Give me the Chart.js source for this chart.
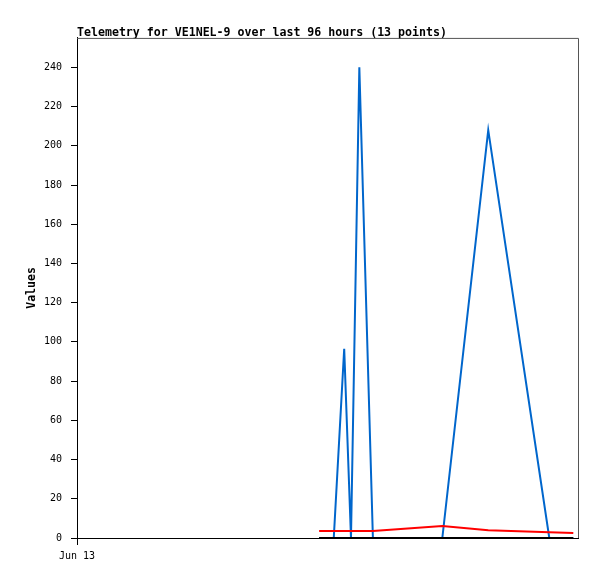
<!DOCTYPE html>
<html>
<head>
<meta charset="utf-8">
<script src="https://cdn.jsdelivr.net/npm/chart.js@4/dist/chart.umd.min.js"></script>
<style>
  html, body { margin: 0; padding: 0; background: #fff; }
  #wrap { width: 597px; height: 579px; }
</style>
</head>
<body>
<div id="wrap"><canvas id="chart"></canvas></div>
<script>
// hours since start of the 96 hour window
const hours = [46.4, 49.2, 51.2, 52.5, 54.1, 56.7, 70.0, 78.8, 90.5, 95.1];
const blueValues = [0, 0, 96.5, 0, 240, 0, 0, 208, 0, 0];
const redValues = [3.6, 3.6, 3.6, 3.6, 3.6, 3.6, 6.1, 4.0, 2.9, 2.6];
const blackValues = [0, 0, 0, 0, 0, 0, 0, 0, 0, 0];
const xTickValues = [0];
const xTickLabels = ["Jun 13"];
const yTickStep = 20;

const MONO = "'DejaVu Sans Mono', 'Liberation Mono', monospace";

const toPoints = (vals) => vals.map((v, i) => ({ x: hours[i], y: v }));

// gray top and right edges of the plot box
const boxEdges = {
  id: "boxEdges",
  afterDraw(chart) {
    const { ctx, chartArea } = chart;
    ctx.save();
    ctx.strokeStyle = "#555";
    ctx.lineWidth = 1;
    ctx.beginPath();
    ctx.moveTo(chartArea.left, chartArea.top + 0.5);
    ctx.lineTo(chartArea.right + 0.5, chartArea.top + 0.5);
    ctx.lineTo(chartArea.right + 0.5, chartArea.bottom);
    ctx.stroke();
    ctx.restore();
  },
};

const ctx = document.getElementById("chart");

new Chart(ctx, {
  type: "line",
  data: {
    datasets: [
      {
        label: "black",
        data: toPoints(blackValues),
        borderColor: "#000000",
        borderWidth: 2,
        pointRadius: 0,
        tension: 0,
        order: 0,
      },
      {
        label: "red",
        data: toPoints(redValues),
        borderColor: "#ff0000",
        borderWidth: 2,
        pointRadius: 0,
        tension: 0,
        order: 1,
      },
      {
        label: "blue",
        data: toPoints(blueValues),
        borderColor: "#0066cc",
        borderWidth: 2,
        pointRadius: 0,
        tension: 0,
        order: 2,
      },
    ],
  },
  options: {
    responsive: true,
    maintainAspectRatio: false,
    animation: false,
    layout: {
      padding: { top: 0, right: 19, bottom: 0, left: 0 },
    },
    plugins: {
      legend: { display: false },
      tooltip: { enabled: false },
      title: {
        display: true,
        text: "Telemetry for VE1NEL-9 over last 96 hours (13 points)",
        align: "start",
        fullSize: false,
        color: "#000",
        font: { family: MONO, size: 11.6, weight: "bold", lineHeight: 1.2 },
        padding: { top: 26, bottom: -2 },
      },
    },
    scales: {
      x: {
        type: "linear",
        min: 0,
        max: 96,
        afterBuildTicks: (scale) => {
          scale.ticks = xTickValues.map((v) => ({ value: v }));
        },
        afterFit: (scale) => {
          scale.height = 41;
        },
        ticks: {
          color: "#000",
          font: { family: MONO, size: 10 },
          padding: 5,
          maxRotation: 0,
          callback: (value) => {
            const i = xTickValues.indexOf(value);
            return i >= 0 ? xTickLabels[i] : "";
          },
        },
        grid: {
          drawOnChartArea: false,
          tickLength: 7,
          color: "#000",
        },
        border: { display: true, color: "#000", width: 1 },
      },
      y: {
        type: "linear",
        min: 0,
        max: 255,
        afterBuildTicks: (scale) => {
          scale.ticks = scale.ticks.filter((t) => t.value % yTickStep === 0);
        },
        afterFit: (scale) => {
          scale.width = 77;
        },
        ticks: {
          stepSize: yTickStep,
          color: "#000",
          font: { family: MONO, size: 10 },
          padding: 9,
        },
        grid: {
          drawOnChartArea: false,
          tickLength: 6,
          color: "#000",
        },
        border: { display: true, color: "#000", width: 1 },
        title: {
          display: true,
          text: "Values",
          color: "#000",
          font: { family: MONO, size: 11.5, weight: "bold", lineHeight: 1.2 },
          padding: { top: 25, bottom: 0 },
        },
      },
    },
  },
  plugins: [boxEdges],
});
</script>
</body>
</html>
